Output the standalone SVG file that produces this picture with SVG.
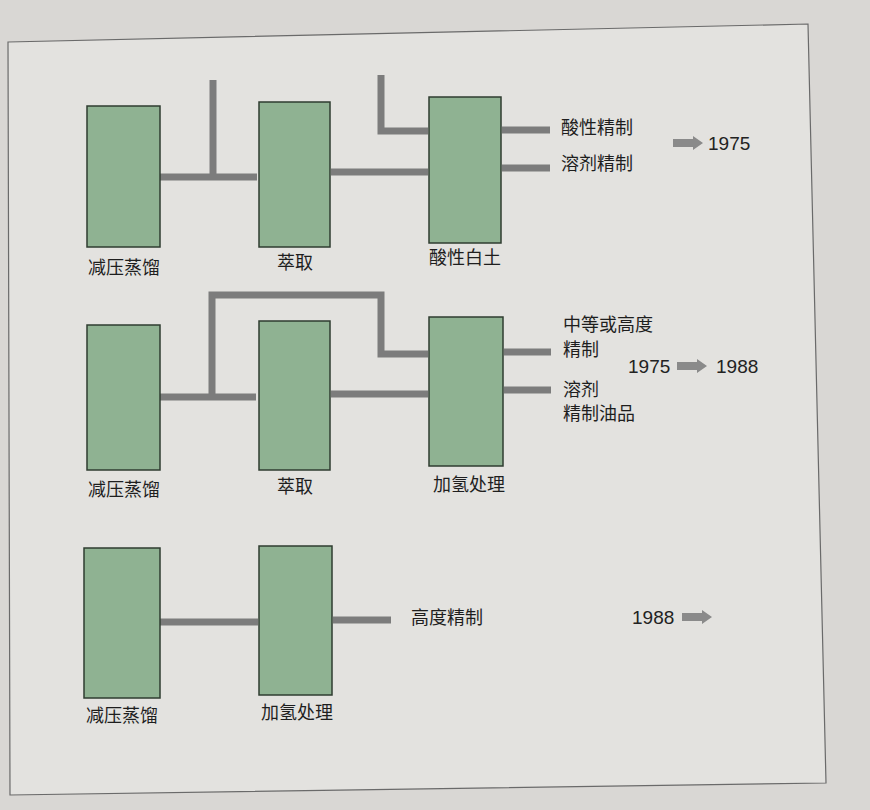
<svg xmlns="http://www.w3.org/2000/svg" width="870" height="810" viewBox="0 0 870 810">
<style>
.box{fill:#8fb292;stroke:#2f3d30;stroke-width:1.5}
.pipe{fill:none;stroke:#7c7c7c;stroke-width:7;stroke-linecap:butt;stroke-linejoin:miter}
.lbl{font-family:"Liberation Sans","Noto Sans CJK SC",sans-serif;font-size:18px;fill:#1e1e1e}
.num{font-family:"Liberation Sans","Noto Sans CJK SC",sans-serif;font-size:19px;fill:#222}
.arr{fill:#8a8a8a}
</style>
<defs>
<polygon id="arrow" class="arr" points="0,-4 20,-4 20,-7 30,0 20,7 20,4 0,4"/>
</defs>
<rect x="0" y="0" width="870" height="810" fill="#d9d7d4"/>
<polygon points="8,42 808,24 826,783 10,795" fill="#e3e2df" stroke="#6a6a6a" stroke-width="1.2"/>

<g id="connectors">
<path class="pipe" d="M160,177 H257"/>
<path class="pipe" d="M213,80 V177"/>
<path class="pipe" d="M331,172 H428"/>
<path class="pipe" d="M381,75 V131 H428"/>
<path class="pipe" d="M502,130 H550"/>
<path class="pipe" d="M502,168 H550"/>

<path class="pipe" d="M160,397 H256"/>
<path class="pipe" d="M212,397 V295 H381 V354 H428"/>
<path class="pipe" d="M331,394 H428"/>
<path class="pipe" d="M504,352 H551"/>
<path class="pipe" d="M504,390 H551"/>

<path class="pipe" d="M160,622 H258"/>
<path class="pipe" d="M333,620 H391"/>
</g>

<g id="r1-vacuum"><rect class="box" x="87" y="106" width="73" height="141"/><text class="lbl" x="124" y="274" text-anchor="middle">减压蒸馏</text></g>
<g id="r1-extract"><rect class="box" x="259" y="102" width="71" height="145"/><text class="lbl" x="295" y="269" text-anchor="middle">萃取</text></g>
<g id="r1-clay"><rect class="box" x="429" y="97" width="72" height="146"/><text class="lbl" x="465" y="264" text-anchor="middle">酸性白土</text></g>
<g id="r1-out1"><text class="lbl" x="561" y="134">酸性精制</text></g>
<g id="r1-out2"><text class="lbl" x="561" y="170">溶剂精制</text></g>
<g id="r1-year"><use href="#arrow" x="673" y="143"/><text class="num" x="708" y="150">1975</text></g>

<g id="r2-vacuum"><rect class="box" x="87" y="325" width="73" height="145"/><text class="lbl" x="124" y="496" text-anchor="middle">减压蒸馏</text></g>
<g id="r2-extract"><rect class="box" x="259" y="321" width="71" height="149"/><text class="lbl" x="295" y="493" text-anchor="middle">萃取</text></g>
<g id="r2-hydro"><rect class="box" x="429" y="317" width="74" height="149"/><text class="lbl" x="469" y="491" text-anchor="middle">加氢处理</text></g>
<g id="r2-out1"><text class="lbl" x="563" y="331">中等或高度</text><text class="lbl" x="563" y="356">精制</text></g>
<g id="r2-out2"><text class="lbl" x="563" y="396">溶剂</text><text class="lbl" x="563" y="420">精制油品</text></g>
<g id="r2-year"><text class="num" x="628" y="373">1975</text><use href="#arrow" x="677" y="366"/><text class="num" x="716" y="373">1988</text></g>

<g id="r3-vacuum"><rect class="box" x="84" y="548" width="76" height="150"/><text class="lbl" x="122" y="722" text-anchor="middle">减压蒸馏</text></g>
<g id="r3-hydro"><rect class="box" x="259" y="546" width="73" height="149"/><text class="lbl" x="297" y="719" text-anchor="middle">加氢处理</text></g>
<g id="r3-out"><text class="lbl" x="411" y="624">高度精制</text></g>
<g id="r3-year"><text class="num" x="632" y="624">1988</text><use href="#arrow" x="682" y="617"/></g>
</svg>
